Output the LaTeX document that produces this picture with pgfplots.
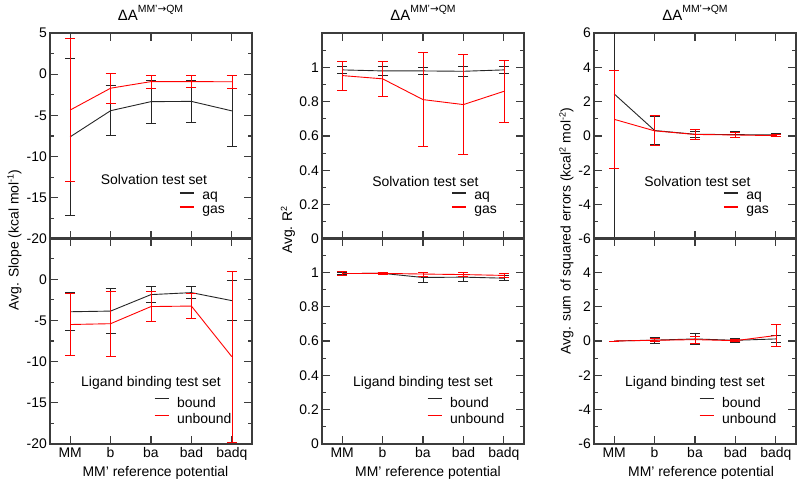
\documentclass[border=0pt]{standalone}
\usepackage{fontspec}
\setmainfont{Liberation Sans}
\newfontfamily\dejavu{DejaVu Sans}
\usepackage{pgfplots}
\pgfplotsset{compat=1.18}
\definecolor{axgray}{RGB}{60,60,60}
\definecolor{myred}{RGB}{255,0,0}
\newcommand{\fs}[1]{\fontsize{#1}{#1}\selectfont}

\pgfplotsset{
 panel/.style={
  scale only axis, width=202bp, height=206bp,
  xmin=-0.5, xmax=4.5, xtick={0,1,2,3,4},
  xtick pos=both, ytick pos=both, xtick align=inside, ytick align=inside,
  major tick length=8bp, minor tick length=4bp,
  every tick/.append style={draw=axgray, line width=1.2bp},
  axis line style={draw=axgray, line width=1.3bp},
  tick label style={font=\fs{14}},
  yticklabel style={inner sep=3bp},
  xticklabels={},
  legend cell align=left,
  legend style={draw=none, fill=none, inner sep=0pt, outer sep=0pt, font=\fs{14}, row sep=1bp, column sep=6bp},
  legend image code/.code={\draw[#1, line width=1.1bp] (0bp,4bp) -- (14bp,4bp);},
 },
 blk/.style={color=black!85, line width=0.9bp, mark=none, error bars/.cd, y dir=both, y explicit, error mark options={rotate=90, mark size=5bp, line width=0.9bp}},
 rd/.style={color=myred, line width=0.9bp, mark=none, error bars/.cd, y dir=both, y explicit, error mark options={rotate=90, mark size=5bp, line width=0.9bp}},
 xlab/.style={xticklabels={MM,b,ba,bad,badq}},
}

\pgfplotstableread{
x y e
0 -7.6 9.55
1 -4.43 3.05
2 -3.33 2.6
3 -3.3 2.6
4 -4.45 4.3
}\Aaq
\pgfplotstableread{
x y e
0 -4.35 8.65
1 -1.7 1.85
2 -0.9 0.8
3 -0.9 0.7
4 -0.92 0.75
}\Agas
\pgfplotstableread{
x y e
0 -3.95 2.3
1 -3.87 2.7
2 -1.87 1.0
3 -1.63 0.7
4 -2.6 2.4
}\Abound
\pgfplotstableread{
x y e
0 -5.5 3.8
1 -5.4 3.95
2 -3.32 1.8
3 -3.26 1.55
4 -9.4 10.4
}\Aunbound
\pgfplotstableread{
x y e
0 0.985 0.022
1 0.979 0.027
2 0.979 0.023
3 0.977 0.029
4 0.985 0.018
}\Baq
\pgfplotstableread{
x y e
0 0.952 0.085
1 0.933 0.10
2 0.812 0.272
3 0.783 0.292
4 0.860 0.182
}\Bgas
\pgfplotstableread{
x y e
0 0.993 0.008
1 0.994 0.004
2 0.970 0.030
3 0.972 0.025
4 0.966 0.013
}\Bbound
\pgfplotstableread{
x y e
0 0.993 0.010
1 0.994 0.004
2 0.990 0.012
3 0.987 0.012
4 0.982 0.012
}\Bunbound
\pgfplotstableread{
x y e
0 2.45 10
1 0.32 0.80
2 0.10 0.16
3 0.08 0.18
4 0.06 0.08
}\Caq
\pgfplotstableread{
x y e
0 0.97 2.85
1 0.30 0.87
2 0.09 0.29
3 0.06 0.12
4 0.02 0.05
}\Cgas
\pgfplotstableread{
x y e
0 0.0 0.0
1 0.05 0.17
2 0.12 0.32
3 0.04 0.13
4 0.12 0.23
}\Cbound
\pgfplotstableread{
x y e
0 0.0 0.0
1 0.04 0.08
2 0.08 0.20
3 0.02 0.05
4 0.32 0.63
}\Cunbound

\begin{document}
\begin{tikzpicture}
\path (0bp,0bp) rectangle (800bp,484bp);

% ---------- column 1 ----------
\begin{axis}[panel, at={(50bp,245bp)}, anchor=south west,
  ymin=-20, ymax=5, ytick={-20,-15,...,5}, minor ytick={-17.5,-12.5,...,2.5},
  yticklabels={-20,-15,-10,-5,0,5},
  legend style={at={(0.64,0.17)}, anchor=west}]
\addplot[blk] table[x=x,y=y,y error=e] {\Aaq};
\addlegendentry{aq}
\addplot[rd] table[x=x,y=y,y error=e] {\Agas};
\addlegendentry{gas}
\node[font=\fs{14}] at (axis description cs:0.515,0.29) {Solvation test set};
\end{axis}
\begin{axis}[panel, xlab, at={(50bp,40bp)}, anchor=south west,
  ymin=-20, ymax=5, ytick={-20,-15,...,5}, minor ytick={-17.5,-12.5,...,2.5},
  yticklabels={-20,-15,-10,-5,0,{}},
  legend style={at={(0.515,0.16)}, anchor=west}]
\addplot[blk] table[x=x,y=y,y error=e] {\Abound};
\addlegendentry{bound}
\addplot[rd] table[x=x,y=y,y error=e] {\Aunbound};
\addlegendentry{unbound}
\node[font=\fs{14}] at (axis description cs:0.5,0.296) {Ligand binding test set};
\end{axis}

% ---------- column 2 ----------
\begin{axis}[panel, at={(322bp,245bp)}, anchor=south west,
  ymin=0, ymax=1.2, ytick={0,0.2,0.4,0.6,0.8,1}, minor ytick={0.1,0.3,0.5,0.7,0.9,1.1},
  yticklabels={0,0.2,0.4,0.6,0.8,1},
  legend style={at={(0.64,0.17)}, anchor=west}]
\addplot[blk] table[x=x,y=y,y error=e] {\Baq};
\addlegendentry{aq}
\addplot[rd] table[x=x,y=y,y error=e] {\Bgas};
\addlegendentry{gas}
\node[font=\fs{14}] at (axis description cs:0.512,0.28) {Solvation test set};
\end{axis}
\begin{axis}[panel, xlab, at={(322bp,40bp)}, anchor=south west,
  ymin=0, ymax=1.2, ytick={0,0.2,0.4,0.6,0.8,1}, minor ytick={0.1,0.3,0.5,0.7,0.9,1.1},
  yticklabels={0,0.2,0.4,0.6,0.8,1},
  legend style={at={(0.52,0.16)}, anchor=west}]
\addplot[blk] table[x=x,y=y,y error=e] {\Bbound};
\addlegendentry{bound}
\addplot[rd] table[x=x,y=y,y error=e] {\Bunbound};
\addlegendentry{unbound}
\node[font=\fs{14}] at (axis description cs:0.5,0.296) {Ligand binding test set};
\end{axis}

% ---------- column 3 ----------
\begin{axis}[panel, at={(594bp,245bp)}, anchor=south west,
  ymin=-6, ymax=6, ytick={-6,-4,...,6}, minor ytick={-5,-3,...,5},
  yticklabels={-6,-4,-2,0,2,4,6},
  legend style={at={(0.64,0.17)}, anchor=west}]
\addplot[blk] table[x=x,y=y,y error=e] {\Caq};
\addlegendentry{aq}
\addplot[rd] table[x=x,y=y,y error=e] {\Cgas};
\addlegendentry{gas}
\node[font=\fs{14}] at (axis description cs:0.512,0.28) {Solvation test set};
\end{axis}
\begin{axis}[panel, xlab, at={(594bp,40bp)}, anchor=south west,
  ymin=-6, ymax=6, ytick={-6,-4,...,6}, minor ytick={-5,-3,...,5},
  yticklabels={-6,-4,-2,0,2,4,{}},
  legend style={at={(0.52,0.16)}, anchor=west}]
\addplot[blk] table[x=x,y=y,y error=e] {\Cbound};
\addlegendentry{bound}
\addplot[rd] table[x=x,y=y,y error=e] {\Cunbound};
\addlegendentry{unbound}
\node[font=\fs{14}] at (axis description cs:0.5,0.296) {Ligand binding test set};
\end{axis}

% ---------- titles and labels ----------
\foreach \cx in {150.5,423,695}{
  \node[anchor=base] at (\cx bp,463bp) {\fs{15}ΔA\raisebox{8.5bp}{\fs{10.5}MM'{\dejavu→}QM}};
}
\foreach \cx in {155.5,428,701}{
  \node[anchor=base] at (\cx bp,7.3bp) {\fs{14}MM’ reference potential};
}
\node[rotate=90, anchor=base] at (18.5bp,244bp) {\fs{14}Avg. Slope (kcal mol\raisebox{5bp}{\fs{9}-1})};
\node[rotate=90, anchor=base] at (292bp,254bp) {\fs{14}Avg. R\raisebox{5bp}{\fs{9}2}};
\node[rotate=90, anchor=base] at (570.5bp,252.5bp) {\fs{14}Avg. sum of squared errors (kcal\raisebox{5bp}{\fs{9}2} mol\raisebox{5bp}{\fs{9}-2})};
\end{tikzpicture}
\end{document}
